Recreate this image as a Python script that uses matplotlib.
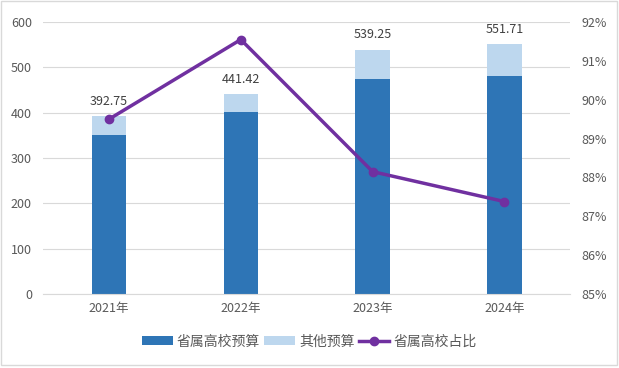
import numpy as np
import matplotlib.pyplot as plt
from matplotlib.patches import Rectangle
from matplotlib.ticker import FuncFormatter

plt.rcParams['font.family'] = ['Noto Sans CJK SC', 'DejaVu Sans']

years = ["2021年", "2022年", "2023年", "2024年"]
totals = [392.75, 441.42, 539.25, 551.71]
provincial = [351.0, 402.0, 474.5, 481.5]
other = [t - p for t, p in zip(totals, provincial)]
share = [89.5, 91.55, 88.15, 87.38]

dark = "#2E75B6"
light = "#BDD7EE"
purple = "#7030A0"
txt = "#595959"

fig = plt.figure(figsize=(6.19, 3.68), dpi=100)
fig.patches.append(Rectangle((0.002, 0.008), 0.994, 0.988, transform=fig.transFigure,
                             fill=False, edgecolor="#D9D9D9", lw=1))
ax = fig.add_axes([0.0695, 0.201, 0.852, 0.739])
x = np.arange(len(years))
w = 0.26
b1 = ax.bar(x, provincial, w, color=dark, label="省属高校预算", zorder=2)
b2 = ax.bar(x, other, w, bottom=provincial, color=light, label="其他预算", zorder=2)
for xi, t in zip(x, totals):
    ax.annotate(f"{t:.2f}", (xi, t), xytext=(0, 6), textcoords="offset points",
                ha="center", va="bottom", fontsize=9, color="#404040")

ax.set_xlim(-0.5, 3.5)
ax.set_ylim(0, 600)
ax.set_yticks(range(0, 601, 100))
ax.grid(axis="y", color="#D9D9D9", lw=0.8, zorder=0)
ax.set_axisbelow(True)
for s in ["top", "right", "left"]:
    ax.spines[s].set_visible(False)
ax.spines["bottom"].set_color("#D9D9D9")
ax.set_xticks(x)
ax.set_xticklabels(years)
ax.tick_params(axis="both", length=0, labelsize=9, colors=txt)
ax.tick_params(axis="x", pad=6)
ax.tick_params(axis="y", pad=8)

ax2 = ax.twinx()
ln, = ax2.plot(x, share, color=purple, lw=2.5, marker="o", ms=6, label="省属高校占比", zorder=3)
ax2.set_ylim(85, 92)
ax2.set_yticks(range(85, 93))
ax2.yaxis.set_major_formatter(FuncFormatter(lambda v, p: f"{v:.0f}%"))
for s in ax2.spines.values():
    s.set_visible(False)
ax2.tick_params(axis="y", length=0, labelsize=9, colors=txt, pad=8)

fig.legend(handles=[b1, b2, ln], loc="center", bbox_to_anchor=(0.5, 0.072), ncol=3,
           frameon=False, fontsize=10, labelcolor=txt, handlelength=2.2, handleheight=0.6,
           columnspacing=0.3, handletextpad=0.3)

fig.savefig("out.png", dpi=100)
